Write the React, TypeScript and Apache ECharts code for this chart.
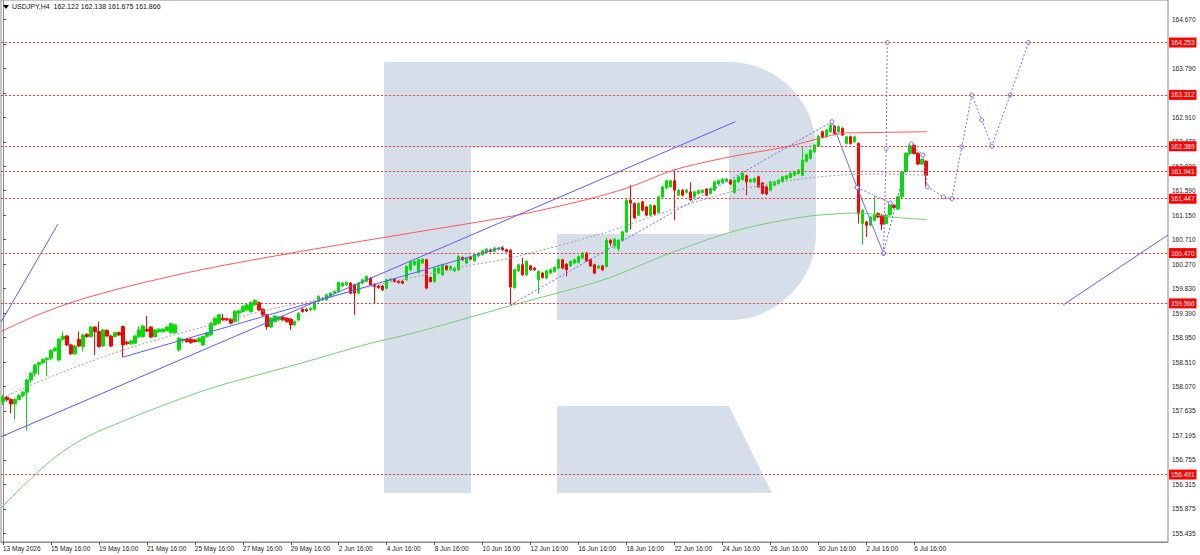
import React, { useEffect, useRef } from "react";
import * as echarts from "echarts";

// ---------- DATA ----------
const header = { symbol: "USDJPY,H4", open: 162.122, high: 162.138, low: 161.675, close: 161.866 };

// H4 candles [open, close, low, high] from 13 May 2026 16:00
const ohlc: number[][] = [
  [157.80,157.88,157.74,157.92],[157.88,157.84,157.80,157.90],[157.84,157.76,157.59,157.86],[157.76,157.84,157.48,157.86],[157.84,157.91,157.82,157.93],
  [157.91,157.97,157.88,157.99],[157.97,158.19,157.28,158.21],[158.19,158.31,158.14,158.33],[158.31,158.46,158.25,158.48],[158.46,158.50,158.28,158.52],
  [158.50,158.56,158.48,158.58],[158.56,158.58,158.26,158.60],[158.58,158.72,158.55,158.74],[158.72,158.76,158.70,158.78],[158.55,158.92,158.52,158.94],
  [158.92,158.98,158.90,159.06],[158.98,158.82,158.80,159.00],[158.82,158.66,158.64,158.84],[158.66,158.80,158.64,158.82],[158.92,158.80,158.78,159.06],
  [158.79,159.00,158.70,159.02],[159.01,158.97,158.95,159.03],[158.97,159.14,158.95,159.16],[159.14,159.06,158.64,159.16],[159.06,158.79,158.77,159.24],
  [158.80,159.09,158.78,159.11],[159.08,158.98,158.96,159.10],[158.98,158.80,158.78,159.00],[158.97,159.04,158.95,159.06],[159.04,159.00,158.98,159.06],
  [159.15,158.82,158.60,159.17],[158.87,158.84,158.82,158.89],[158.84,158.89,158.82,158.91],[158.85,158.98,158.83,159.00],[158.97,159.09,158.95,159.15],
  [158.97,159.16,158.95,159.18],[159.10,159.07,159.05,159.34],[159.14,158.96,158.94,159.16],[158.97,159.09,158.95,159.11],[159.06,159.10,159.04,159.12],
  [159.06,159.10,159.04,159.12],[159.08,159.14,159.06,159.16],[159.04,159.20,159.02,159.22],[159.04,159.18,159.02,159.20],[158.73,158.94,158.70,158.96],
  [158.89,158.92,158.86,158.94],[158.92,158.88,158.86,158.94],[158.92,158.86,158.84,158.94],[158.91,158.88,158.86,158.93],[158.88,158.94,158.86,158.96],
  [158.82,158.97,158.80,158.99],[158.97,159.03,158.95,159.05],[159.00,159.21,158.98,159.23],[159.18,159.30,159.16,159.32],[159.21,159.36,159.19,159.38],
  [159.30,159.27,159.25,159.38],[159.29,159.27,159.25,159.31],[159.28,159.21,159.19,159.30],[159.24,159.42,159.22,159.44],[159.39,159.43,159.24,159.45],
  [159.42,159.51,159.40,159.53],[159.45,159.54,159.43,159.56],[159.42,159.58,159.40,159.60],[159.54,159.62,159.52,159.64],[159.58,159.45,159.43,159.60],
  [159.46,159.36,159.34,159.48],[159.36,159.15,159.09,159.38],[159.14,159.30,159.12,159.32],[159.24,159.34,159.22,159.36],[159.27,159.32,159.25,159.34],
  [159.32,159.27,159.25,159.34],[159.30,159.24,159.22,159.32],[159.28,159.18,159.09,159.30],[159.18,159.24,159.16,159.26],[159.27,159.39,159.25,159.41],
  [159.46,159.42,159.40,159.48],[159.46,159.43,159.41,159.48],[159.45,159.48,159.43,159.50],[159.46,159.58,159.44,159.60],[159.60,159.69,159.58,159.71],
  [159.63,159.66,159.61,159.68],[159.63,159.72,159.61,159.74],[159.69,159.75,159.67,159.77],[159.75,159.78,159.73,159.80],[159.78,159.94,159.76,159.96],
  [159.88,159.93,159.86,159.95],[159.90,159.94,159.88,159.96],[159.93,159.75,159.73,159.95],[159.90,159.75,159.36,159.92],[159.75,159.93,159.73,159.95],
  [159.93,159.99,159.91,160.01],[159.96,160.05,159.94,160.07],[160.02,159.90,159.88,160.04],[159.91,159.87,159.57,159.93],[159.88,159.85,159.83,159.90],
  [159.88,159.81,159.79,159.90],[159.84,159.99,159.82,160.01],[159.98,160.00,159.96,160.02],[160.00,159.96,159.94,160.02],[159.96,159.94,159.92,159.98],
  [159.96,159.93,159.91,159.98],[159.99,160.23,159.97,160.25],[160.17,160.32,160.15,160.34],[160.26,160.32,160.24,160.34],[160.12,160.35,160.10,160.37],
  [160.29,160.36,160.27,160.38],[160.35,159.84,159.82,160.37],[160.03,159.96,159.94,160.05],[159.96,160.20,159.94,160.22],[160.11,160.20,160.09,160.26],
  [160.08,160.26,160.06,160.28],[160.24,160.17,160.15,160.26],[160.17,160.23,160.15,160.25],[160.15,160.20,160.13,160.22],[160.17,160.41,160.15,160.43],
  [160.39,160.35,160.33,160.41],[160.29,160.38,160.27,160.40],[160.39,160.36,160.34,160.41],[160.33,160.44,160.31,160.46],[160.42,160.47,160.40,160.49],
  [160.44,160.51,160.42,160.53],[160.48,160.54,160.46,160.56],[160.53,160.50,160.48,160.55],[160.50,160.56,160.48,160.58],[160.54,160.56,160.52,160.58],
  [160.56,160.53,160.51,160.60],[160.53,160.50,160.48,160.55],[160.52,159.86,159.54,160.54],[159.85,160.17,159.83,160.19],[160.15,160.26,160.13,160.28],
  [160.26,160.08,160.06,160.38],[160.08,160.32,160.06,160.34],[160.24,160.17,160.15,160.26],[160.20,160.17,160.15,160.22],[159.99,160.14,159.74,160.16],
  [160.11,160.03,160.01,160.13],[160.02,160.15,160.00,160.17],[160.11,160.17,160.09,160.19],[160.14,160.21,160.12,160.23],[160.20,160.35,160.18,160.37],
  [160.35,160.20,160.18,160.37],[160.27,160.17,160.05,160.29],[160.24,160.32,160.22,160.34],[160.29,160.35,160.27,160.37],[160.30,160.41,160.28,160.43],
  [160.38,160.47,160.36,160.49],[160.47,160.33,160.31,160.49],[160.35,160.24,160.22,160.37],[160.26,160.11,160.09,160.28],[160.20,160.24,160.18,160.26],
  [160.24,160.17,160.15,160.26],[160.23,160.70,160.21,160.74],[160.70,160.65,160.60,160.72],[160.60,160.72,160.55,160.74],[160.55,160.70,160.50,160.72],
  [160.70,160.85,160.68,160.87],[160.85,161.42,160.83,161.44],[161.42,161.37,160.89,161.69],[161.36,161.10,161.08,161.38],[161.15,161.36,161.13,161.38],
  [161.39,161.24,161.22,161.41],[161.30,161.15,161.13,161.32],[161.15,161.33,161.13,161.35],[161.32,161.17,161.15,161.34],[161.20,161.48,161.18,161.50],
  [161.48,161.66,161.46,161.68],[161.64,161.77,161.62,161.79],[161.66,161.77,161.64,161.79],[161.77,161.60,161.06,161.96],[161.51,161.60,161.49,161.62],
  [161.60,161.51,161.49,161.62],[161.56,161.60,161.54,161.62],[161.57,161.43,161.41,161.74],[161.48,161.57,161.46,161.59],[161.54,161.59,161.52,161.61],
  [161.56,161.60,161.54,161.62],[161.62,161.51,161.49,161.64],[161.54,161.63,161.52,161.65],[161.60,161.75,161.58,161.77],[161.71,161.77,161.69,161.79],
  [161.74,161.80,161.72,161.82],[161.76,161.80,161.74,161.82],[161.78,161.71,161.69,161.80],[161.56,161.78,161.54,161.80],[161.75,161.84,161.73,161.86],
  [161.79,161.90,161.77,161.92],[161.86,161.75,161.51,161.88],[161.75,161.79,161.73,161.81],[161.75,161.81,161.73,161.83],[161.84,161.66,161.64,161.86],
  [161.73,161.54,161.52,161.75],[161.66,161.53,161.51,161.68],[161.60,161.75,161.58,161.77],[161.69,161.75,161.67,161.77],[161.72,161.78,161.70,161.80],
  [161.75,161.84,161.73,161.86],[161.80,161.86,161.78,161.88],[161.83,161.90,161.81,161.92],[161.87,161.93,161.85,161.95],[161.90,161.96,161.88,161.98],
  [161.87,162.14,161.85,162.38],[162.12,162.24,162.10,162.26],[162.17,162.32,162.15,162.34],[162.29,162.41,162.27,162.43],[162.39,162.57,162.37,162.59],
  [162.65,162.55,162.53,162.67],[162.56,162.68,162.54,162.70],[162.65,162.77,162.63,162.84],[162.75,162.62,162.60,162.77],[162.65,162.74,162.63,162.76],
  [162.71,162.59,162.57,162.73],[162.44,162.56,162.42,162.58],[162.56,162.44,162.42,162.58],[162.47,162.56,162.45,162.58],[162.44,161.18,161.00,162.46],
  [161.00,161.24,160.62,161.26],[161.03,160.97,160.76,161.05],[160.97,161.12,160.95,161.14],[161.06,161.15,161.04,161.50],[161.18,161.12,161.10,161.20],
  [161.15,160.99,160.88,161.17],[161.00,161.15,160.98,161.17],[161.16,161.35,161.14,161.37],[161.33,161.29,161.27,161.35],[161.26,161.48,161.24,161.50],
  [161.48,161.93,161.46,161.95],[161.93,162.26,161.91,162.28],[162.26,162.41,162.24,162.43],[162.41,162.26,162.24,162.43],[162.26,162.07,162.05,162.28],
  [162.07,162.15,162.05,162.17],[162.122,161.866,161.675,162.138],
];

// moving averages: [bar index, price]
const maRed: number[][] = [
  [-0.5,159.06],[7.75,159.33],[17,159.58],[27,159.79],[35.25,159.94],[49.5,160.17],[74.5,160.50],[102,160.83],
  [128.5,161.15],[146,161.43],[157,161.66],[167.75,161.96],[182,162.20],[196.25,162.38],[199.5,162.44],[209.5,162.62],[212,162.63],[231.25,162.65],
];
const maGreen: number[][] = [
  [-0.5,155.89],[7,156.42],[13,156.80],[18.75,157.08],[24,157.27],[27,157.36],[37,157.65],[52,158.04],[74.5,158.49],[92,158.85],[102,159.02],
  [117,159.32],[127.75,159.54],[150.25,159.99],[167,160.47],[183.75,160.88],[200.25,161.12],[209.5,161.18],[214.5,161.19],[222,161.12],[231.25,161.07],
];
const maGray: number[][] = [
  [1.25,157.92],[16.25,158.37],[32.75,158.79],[52,159.18],[66.25,159.45],[77.75,159.62],[92,159.87],[99.5,159.99],[117,160.25],
  [127,160.38],[150.25,160.83],[167,161.24],[183.75,161.60],[199.5,161.80],[209.5,161.87],[219.5,161.89],[231.25,161.87],
];

// drawn objects: [bar index, price]
const trendLong: number[][] = [[-0.5,157.17],[183.25,162.83]];
const trendLower: number[][] = [[30,158.60],[125.25,160.58]];
const trendTopLeft: number[][] = [[-0.5,159.23],[13.75,160.99]];
const trendRight: number[][] = [[265.3,159.54],[291.5,160.795]];
const waveDown: number[][] = [[207.4,162.83],[213.7,161.65],[220.3,160.47]];
const waveUpDotted: number[][] = [[127,159.54],[207.4,162.83]];
const waveBranch: number[][] = [[213.7,161.65],[222,161.37]];
const waveVertical: number[][] = [[220.3,160.47],[221,162.35],[221.25,164.253]];
const forecast: number[][] = [
  [220.3,160.47],[227.25,162.43],[230.2,162.23],[231.3,161.66],[235.3,161.48],[237.4,161.45],[239.9,162.38],
  [242.4,163.31],[244.9,162.86],[247.4,162.39],[252,163.31],[256.6,164.253],
];

const levels = [164.253, 163.312, 162.389, 161.941, 161.447, 160.470, 159.566, 156.491];
const lastPrice = 161.866;

const yTicks = [164.670,164.230,163.790,163.350,162.910,162.470,162.030,161.590,161.150,160.710,160.270,159.830,
  159.390,158.950,158.510,158.070,157.635,157.195,156.755,156.315,155.875,155.435];

const xTickLabels = ["13 May 2026","15 May 16:00","19 May 16:00","21 May 16:00","25 May 16:00","27 May 16:00","29 May 16:00",
  "2 Jun 16:00","4 Jun 16:00","8 Jun 16:00","10 Jun 16:00","12 Jun 16:00","16 Jun 16:00","18 Jun 16:00","22 Jun 16:00",
  "24 Jun 16:00","26 Jun 16:00","30 Jun 16:00","2 Jul 16:00","6 Jul 16:00"];
const LABEL_STEP = 12;
const SLOTS = 292;

// category slots: H4 bars, weekends skipped
const categories: string[] = [];
{
  let t = Date.UTC(2026, 4, 13, 16);
  while (categories.length < SLOTS) {
    const d = new Date(t);
    const wd = d.getUTCDay();
    if (wd !== 0 && wd !== 6) categories.push(d.toISOString().slice(0, 16));
    t += 4 * 3600 * 1000;
  }
}

const LOGO_D =
  "M384 62 L729 62 C777 62 816 101 816 149 L816 233 C816 281 777 320 729 320 L557 320 L557 234 L729 234 L729 148 L471 148 L471 493 L384 493 Z M557 406 L729 406 L772 493 L557 493 Z";
echarts.graphic.registerShape("rflogo", echarts.graphic.extendPath(LOGO_D, {}));

const FONT = "Liberation Sans";
const BLUE = "#5c5cff";

function lineSeries(data: number[][], opts: any = {}) {
  return {
    type: "line",
    xAxisIndex: 1,
    yAxisIndex: 0,
    data,
    showSymbol: false,
    symbol: "none",
    silent: true,
    animation: false,
    lineStyle: { color: BLUE, width: 1 },
    ...opts,
  };
}

const circleOpts = (dotted: boolean) => ({
  showSymbol: true,
  symbol: "circle",
  symbolSize: 4,
  itemStyle: { color: "#ffffff", borderColor: "#6a6aff", borderWidth: 1 },
  lineStyle: { color: "#6a6aff", width: 1, type: dotted ? [2, 2] : "solid" },
  z: 4,
});

export default function App() {
  const ref = useRef<HTMLDivElement>(null);
  useEffect(() => {
    if (!ref.current) return;
    const chart = echarts.init(ref.current, null, { renderer: "svg" });
    const showTick = (i: number) => i % LABEL_STEP === 0 && i / LABEL_STEP < xTickLabels.length;
    const levelLabel = (bg: string) => ({
      show: true,
      position: "end",
      distance: 1,
      formatter: (p: any) => Number(p.value).toFixed(3),
      backgroundColor: bg,
      color: "#ffffff",
      fontSize: 6.5,
      fontFamily: FONT,
      padding: [2, 2, 1, 2],
    });
    chart.setOption({
      animation: false,
      backgroundColor: "#ffffff",
      textStyle: { fontFamily: FONT },
      grid: { left: 0, top: 0, width: 1168, height: 542, show: true, borderColor: "#8a8a8a", borderWidth: 1 },
      xAxis: [
        {
          type: "category",
          data: categories,
          boundaryGap: true,
          axisLine: { show: true, lineStyle: { color: "#8a8a8a" } },
          axisTick: { show: true, interval: (i: number) => showTick(i), alignWithLabel: true, length: 3, lineStyle: { color: "#555" } },
          axisLabel: {
            interval: (i: number) => showTick(i),
            formatter: (_v: string, i: number) => xTickLabels[i / LABEL_STEP] ?? "",
            align: "left",
            margin: 3,
            fontSize: 6.5,
            color: "#222",
            fontFamily: FONT,
          },
          splitLine: { show: false },
        },
        { type: "value", min: -0.5, max: SLOTS - 0.5, show: false },
      ],
      yAxis: {
        type: "value",
        position: "right",
        min: 155.279,
        max: 165.017,
        scale: true,
        axisLine: { show: true, lineStyle: { color: "#8a8a8a" } },
        axisTick: { show: true, customValues: yTicks, length: 3, lineStyle: { color: "#555" } },
        axisLabel: { customValues: yTicks, formatter: (v: number) => v.toFixed(3), fontSize: 6.5, color: "#222", margin: 4, fontFamily: FONT },
        splitLine: { show: false },
      },
      graphic: [
        { type: "rflogo", x: 0, y: 0, scaleX: 1, scaleY: 1, silent: true, z: 0, style: { fill: "#d6dee9" } },
        { type: "polygon", silent: true, z: 10, shape: { points: [[3, 5], [9, 5], [6, 9]] }, style: { fill: "#000" } },
        {
          type: "text",
          x: 12,
          y: 3,
          z: 10,
          silent: true,
          style: {
            text: `${header.symbol}  ${header.open.toFixed(3)} ${header.high.toFixed(3)} ${header.low.toFixed(3)} ${header.close.toFixed(3)}`,
            fontSize: 7,
            fontFamily: FONT,
            fill: "#111",
          },
        },
      ],
      series: [
        {
          type: "candlestick",
          xAxisIndex: 0,
          yAxisIndex: 0,
          data: ohlc,
          barWidth: 3,
          silent: true,
          itemStyle: { color: "#00e000", color0: "#ff0000", borderColor: "#00e000", borderColor0: "#ff0000", borderWidth: 1 },
          z: 2,
        },
        lineSeries(maRed, { smooth: 0.3, lineStyle: { color: "#ff5a5a", width: 1 }, z: 3 }),
        lineSeries(maGreen, { smooth: 0.3, lineStyle: { color: "#70d070", width: 1 }, z: 3 }),
        lineSeries(maGray, { smooth: 0.3, lineStyle: { color: "#a0a0a0", width: 1, type: [2, 2] }, z: 3 }),
        lineSeries(trendLong, { z: 4 }),
        lineSeries(trendLower, { z: 4 }),
        lineSeries(trendTopLeft, { z: 4 }),
        lineSeries(trendRight, { z: 4 }),
        lineSeries(waveUpDotted, { lineStyle: { color: "#6a6aff", width: 1, type: [2, 2] }, z: 4 }),
        lineSeries(waveDown, circleOpts(false)),
        lineSeries(waveBranch, circleOpts(true)),
        lineSeries(waveVertical, circleOpts(true)),
        lineSeries(forecast, circleOpts(true)),
        {
          type: "line",
          xAxisIndex: 1,
          yAxisIndex: 0,
          data: [],
          z: 5,
          markLine: {
            silent: true,
            precision: 3,
            symbol: ["none", "none"],
            animation: false,
            lineStyle: { opacity: 0 },
            label: levelLabel("#000000"),
            data: [{ yAxis: lastPrice }],
          },
        },
        {
          type: "line",
          xAxisIndex: 1,
          yAxisIndex: 0,
          data: [],
          z: 6,
          markLine: {
            silent: true,
            precision: 3,
            symbol: ["none", "none"],
            animation: false,
            lineStyle: { color: "#ff3c3c", width: 1, type: [2, 2] },
            label: levelLabel("#ff0000"),
            data: levels.map((v) => ({ yAxis: v })),
          },
        },
      ],
    });
    return () => chart.dispose();
  }, []);
  return <div ref={ref} style={{ position: "absolute", left: 0, top: 0, width: 1200, height: 555, background: "#fff" }} />;
}
